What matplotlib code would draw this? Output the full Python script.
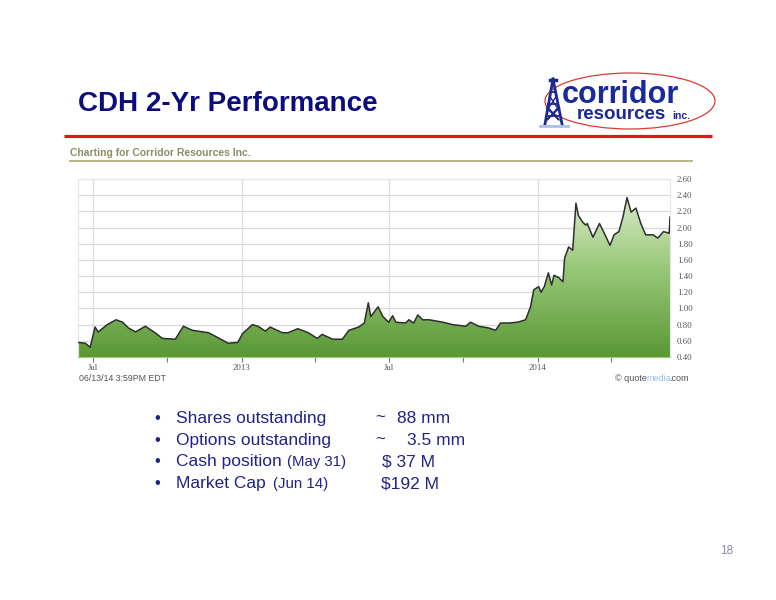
import matplotlib
matplotlib.use('Agg')
import matplotlib.pyplot as plt
from matplotlib.patches import Ellipse
from matplotlib.colors import LinearSegmentedColormap
import numpy as np
import pandas as pd

# CDH closing price
dates = ['2012-06-13', '2012-06-22', '2012-06-28', '2012-07-04', '2012-07-08', '2012-07-19',
         '2012-07-30', '2012-08-07', '2012-08-14', '2012-08-23', '2012-09-04', '2012-09-16',
         '2012-09-25', '2012-10-11', '2012-10-21', '2012-11-01', '2012-11-21', '2012-12-08',
         '2012-12-15', '2012-12-27', '2013-01-02', '2013-01-14', '2013-01-21', '2013-01-30',
         '2013-02-05', '2013-02-20', '2013-02-27', '2013-03-11', '2013-03-24', '2013-04-04',
         '2013-04-10', '2013-04-23', '2013-05-05', '2013-05-13', '2013-05-25', '2013-06-01',
         '2013-06-06', '2013-06-09', '2013-06-18', '2013-06-24', '2013-07-01', '2013-07-06',
         '2013-07-10', '2013-07-22', '2013-07-26', '2013-08-01', '2013-08-06', '2013-08-12',
         '2013-08-20', '2013-09-06', '2013-09-18', '2013-10-04', '2013-10-10', '2013-10-20',
         '2013-11-01', '2013-11-10', '2013-11-16', '2013-11-26', '2013-12-07', '2013-12-17',
         '2013-12-23', '2013-12-27', '2014-01-02', '2014-01-05', '2014-01-09', '2014-01-14',
         '2014-01-18', '2014-01-21', '2014-01-27', '2014-02-01', '2014-02-03', '2014-02-08',
         '2014-02-13', '2014-02-17', '2014-02-20', '2014-02-25', '2014-03-01', '2014-03-03',
         '2014-03-10', '2014-03-18', '2014-03-23', '2014-03-31', '2014-04-05', '2014-04-11',
         '2014-04-16', '2014-04-21', '2014-04-26', '2014-05-02', '2014-05-08', '2014-05-14',
         '2014-05-23', '2014-05-29', '2014-06-05', '2014-06-12', '2014-06-13']
prices = [0.58, 0.57, 0.52, 0.77, 0.71, 0.80,
          0.86, 0.83, 0.76, 0.71, 0.78, 0.70,
          0.63, 0.62, 0.78, 0.73, 0.70, 0.61,
          0.57, 0.58, 0.69, 0.80, 0.78, 0.72,
          0.77, 0.70, 0.70, 0.75, 0.70, 0.63,
          0.68, 0.62, 0.62, 0.73, 0.77, 0.82,
          1.07, 0.90, 1.02, 0.90, 0.83, 0.91,
          0.83, 0.82, 0.86, 0.82, 0.92, 0.86,
          0.86, 0.83, 0.80, 0.78, 0.83, 0.78,
          0.76, 0.73, 0.82, 0.82, 0.83, 0.86,
          1.02, 1.23, 1.27, 1.20, 1.27, 1.44,
          1.29, 1.41, 1.38, 1.33, 1.62, 1.76,
          1.72, 2.30, 2.15, 2.07, 2.03, 2.05,
          1.88, 2.05, 1.95, 1.78, 1.91, 1.95,
          2.13, 2.37, 2.19, 2.24, 2.05, 1.91,
          1.91, 1.87, 1.95, 1.93, 2.13]

major_dates = ['2012-07-01', '2013-01-01', '2013-07-01', '2014-01-01']
major_labels = ['Jul', '2013', 'Jul', '2014']
minor_dates = ['2012-10-01', '2013-04-01', '2013-10-01', '2014-04-01']
y_ticks = [0.40, 0.60, 0.80, 1.00, 1.20, 1.40, 1.60, 1.80, 2.00, 2.20, 2.40, 2.60]

bullets = ['Shares outstanding', 'Options outstanding', 'Cash position', 'Market Cap']
bullet_notes = ['', '', '(May 31)', '(Jun 14)']
bullet_values = ['88 mm', '3.5 mm', '$ 37 M', '$192 M']

W, H = 776, 600
navy = '#0c0c80'
txt = '#22228a'

fig = plt.figure(figsize=(W / 100, H / 100), dpi=100)
fig.patch.set_facecolor('white')

# overlay in pixel coordinates for the slide decoration
bg = fig.add_axes([0, 0, 1, 1])
bg.set_xlim(0, W)
bg.set_ylim(H, 0)
bg.axis('off')

bg.text(78, 111, 'CDH 2-Yr Performance', fontsize=20, fontweight='bold', color=navy,
        family='Liberation Sans', va='baseline', ha='left')
bg.plot([64, 712], [136, 136], color='#e8141c', lw=2.3, solid_capstyle='butt')

# logo
bg.add_patch(Ellipse((630, 101), 170, 56, fill=False, edgecolor='#d83a3a', lw=0.9))
dk = '#1c2a90'
bg.plot([553, 545], [79, 124], color=dk, lw=2)
bg.plot([553, 562], [79, 124], color=dk, lw=2)
for yy in [92, 104, 116]:
    half = (yy - 79) * 8.5 / 45
    bg.plot([553 - half, 553 + half], [yy, yy], color=dk, lw=1.3)
bg.plot([549.5, 557.5, 547, 559.5], [96, 108, 120, 108], color=dk, lw=1)
bg.plot([556.5, 548.5, 559, 546.5], [96, 108, 120, 108], color=dk, lw=1)
bg.plot([550, 556], [80, 80], color=dk, lw=2.5)
bg.plot([540, 568], [126, 126], color='#a8c2e6', lw=2)
bg.text(562, 103, 'corridor', fontsize=22, fontweight='bold', color='#1a2a98',
        family='Liberation Sans', va='baseline')
bg.text(577, 119, 'resources', fontsize=13.5, fontweight='bold', color='#1a2a98',
        family='Liberation Sans', va='baseline')
bg.text(672, 119, 'inc.', fontsize=7.5, fontweight='bold', color='#1a2a98',
        family='Liberation Sans', va='baseline')

# chart header
bg.text(70, 156, 'Charting for Corridor Resources Inc.', fontsize=7.5, fontweight='bold',
        color='#8c8c66', family='Liberation Sans', va='baseline')
bg.plot([70, 692], [161, 161], color='#b4ae7c', lw=1.3)
bg.text(79, 381, '06/13/14 3:59PM EDT', fontsize=6.3, color='#555555',
        family='Liberation Sans', va='baseline')
bg.text(615, 381, '\u00a9 quote', fontsize=6.5, color='#555555', family='Liberation Sans', va='baseline')
bg.text(646, 381, 'media', fontsize=6.5, color='#9dbde6', family='Liberation Sans', va='baseline')
bg.text(669, 381, '.com', fontsize=6.5, color='#555555', family='Liberation Sans', va='baseline')

# bullet list
note_x = [0, 0, 287, 273]
val_x = [397, 407, 382, 381]
for i in range(4):
    yb = 423 + i * 21.7
    bg.text(154, yb, '\u2022', fontsize=12, color=txt, family='Liberation Sans', va='baseline')
    bg.text(176, yb, bullets[i], fontsize=12.5, color=txt, family='Liberation Sans', va='baseline')
    if bullet_notes[i]:
        bg.text(note_x[i], yb, bullet_notes[i], fontsize=10.8, color=txt,
                family='Liberation Sans', va='baseline')
    if i < 2:
        bg.text(375, yb, '~', fontsize=12, color=txt, family='Liberation Sans', va='baseline')
    bg.text(val_x[i], yb, bullet_values[i], fontsize=12.5, color=txt,
            family='Liberation Sans', va='baseline')

bg.text(720, 554, '18', fontsize=8.5, color='#8a8aa8', family='Liberation Sans', va='baseline')

# the price chart
ax = fig.add_axes([78 / W, 1 - 357 / H, (670 - 78) / W, (357 - 179) / H])
d = pd.to_datetime(dates)
x0, x1 = pd.Timestamp('2012-06-13'), pd.Timestamp('2014-06-13')
ax.set_xlim(x0, x1)
ax.set_ylim(0.4, 2.6)
poly = ax.fill_between(d, prices, 0.4, facecolor='none', edgecolor='none')
xl = ax.get_xlim()
cmap = LinearSegmentedColormap.from_list('g', ['#5a9836', '#98c878', '#e8f3dc'])
grad = np.linspace(0, 1, 256).reshape(-1, 1)
im = ax.imshow(grad, extent=[xl[0], xl[1], 0.4, 2.6], origin='lower', aspect='auto',
               cmap=cmap, zorder=2)
im.set_clip_path(poly.get_paths()[0], ax.transData)
ax.plot(d, prices, color='#2f2f2f', lw=1.1, zorder=3)
ax.set_xlim(xl)
ax.set_ylim(0.4, 2.6)

ax.set_xticks(pd.to_datetime(major_dates))
ax.set_xticklabels(major_labels)
ax.set_xticks(pd.to_datetime(minor_dates), minor=True)
ax.set_yticks(y_ticks)
ax.set_yticklabels(['%.2f' % v for v in y_ticks])
ax.yaxis.tick_right()
ax.tick_params(axis='y', length=0, labelsize=6.3, labelcolor='#555555', pad=5)
ax.tick_params(axis='x', which='both', direction='out', length=3.5, width=0.8,
               color='#777777', labelsize=6.3, labelcolor='#555555', pad=1.5)
for lab in ax.get_xticklabels() + ax.get_yticklabels():
    lab.set_fontfamily('Liberation Serif')
ax.grid(axis='y', color='#d9d9d9', lw=0.9)
ax.grid(axis='x', which='major', color='#dedede', lw=0.9)
ax.set_axisbelow(True)
for s in ax.spines.values():
    s.set_color('#e4e4e4')
    s.set_linewidth(0.8)
ax.spines['bottom'].set_color('#9ccf7a')

fig.savefig('out.png', dpi=100, facecolor='white')
